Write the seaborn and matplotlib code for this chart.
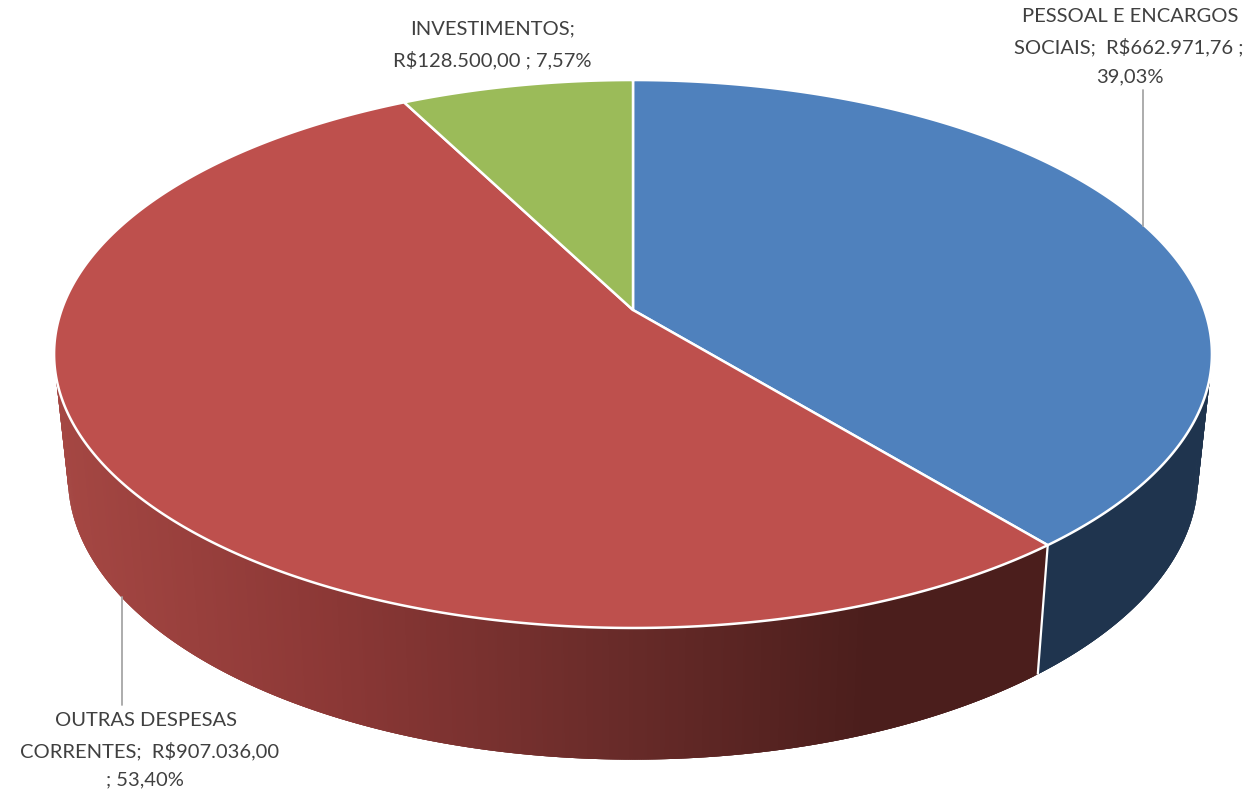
import matplotlib
matplotlib.use("Agg")
import matplotlib.pyplot as plt
import numpy as np
import seaborn as sns
from matplotlib.collections import PolyCollection

# dados do grafico
categorias = ["PESSOAL E ENCARGOS SOCIAIS", "OUTRAS DESPESAS CORRENTES", "INVESTIMENTOS"]
valores = [662971.76, 907036.00, 128500.00]
rotulos = [
    ["PESSOAL E ENCARGOS", "SOCIAIS;  R$662.971,76 ;", "39,03%"],
    ["OUTRAS DESPESAS", "CORRENTES;  R$907.036,00", "; 53,40%"],
    ["INVESTIMENTOS;", "R$128.500,00 ; 7,57%"],
]
cores_topo = ["#4F81BD", "#BE504D", "#9BBB59"]

sns.set_theme(style="white")
plt.rcParams["font.family"] = ["Lato", "DejaVu Sans"]

# perspectiva da pizza, em pixels da imagem
CX = 633
TOPO = dict(cy=310, a=266.9, b=571.4, k=0.1606)
BASE = dict(cy=432, a=275.0, b=557.7, k=0.1606)


def projeta(theta, p):
    u, v = np.sin(theta), np.cos(theta)
    w = 1 + p["k"] * v
    return CX + p["b"] * u / w, p["cy"] - p["a"] * v / w


def arco(ini, fim, p):
    theta = np.linspace(ini, fim, max(int((fim - ini) * 300), 8))
    return np.column_stack(projeta(theta, p)), theta


fig = plt.figure(figsize=(12.56, 7.95), dpi=100)
ax = fig.add_axes([0, 0, 1, 1])
ax.set_xlim(0, 1256)
ax.set_ylim(795, 0)
ax.axis("off")

fracao = np.array(valores) / np.sum(valores)
limites = np.concatenate([[0], np.cumsum(fracao)]) * 2 * np.pi

# lateral: sombra vermelha varia com x, azul e verde sao lisas
sombra = sns.blend_palette(["#A54743", "#8C3836", "#6B2C2A", "#4B1E1C"], as_cmap=True)
cores_lado = ["#1F344E", None, "#5E7330"]

for i in [2, 0, 1]:
    sup, th = arco(limites[i], limites[i + 1], TOPO)
    inf, _ = arco(limites[i], limites[i + 1], BASE)
    n = len(th)
    # cada faixa cobre a seguinte para nao sobrar emenda
    quads = [[sup[j], sup[min(j + 3, n - 1)], inf[min(j + 3, n - 1)], inf[j]] for j in range(n - 1)]
    if cores_lado[i] is None:
        xm = (sup[:-1, 0] + inf[:-1, 0]) / 2
        cores = sombra(np.clip((xm - 60) / 810, 0, 1))
    else:
        cores = [cores_lado[i]] * len(quads)
    ax.add_collection(PolyCollection(quads, facecolors=cores, edgecolors="none", linewidths=0))

# divisao branca na lateral
x_sup, y_sup = projeta(limites[1], TOPO)
x_inf, y_inf = projeta(limites[1], BASE)
ax.plot([x_sup, x_inf], [y_sup, y_inf], color="white", lw=1.6, solid_capstyle="butt")

# face de cima
centro = CX, TOPO["cy"]
for i in range(3):
    sup, _ = arco(limites[i], limites[i + 1], TOPO)
    ax.fill(*np.vstack([[centro], sup]).T, facecolor=cores_topo[i], edgecolor="white", lw=1.8,
            joinstyle="round")

# linhas de chamada
ax.plot([1143, 1143], [90, 226], color="#A6A6A6", lw=1.3)
ax.plot([122, 122], [597, 705], color="#A6A6A6", lw=1.3)

# textos
posicoes = [
    [(1130, 17), (1129, 47), (1130, 77)],
    [(146, 720), (150, 751), (145, 780)],
    [(492, 29), (492, 60)],
]
for linhas, pos in zip(rotulos, posicoes):
    for txt, (x, y) in zip(linhas, pos):
        ax.text(x, y, txt, ha="center", va="center", fontsize=14.5, color="#404040")

fig.savefig("out.png", dpi=100, facecolor="white")
